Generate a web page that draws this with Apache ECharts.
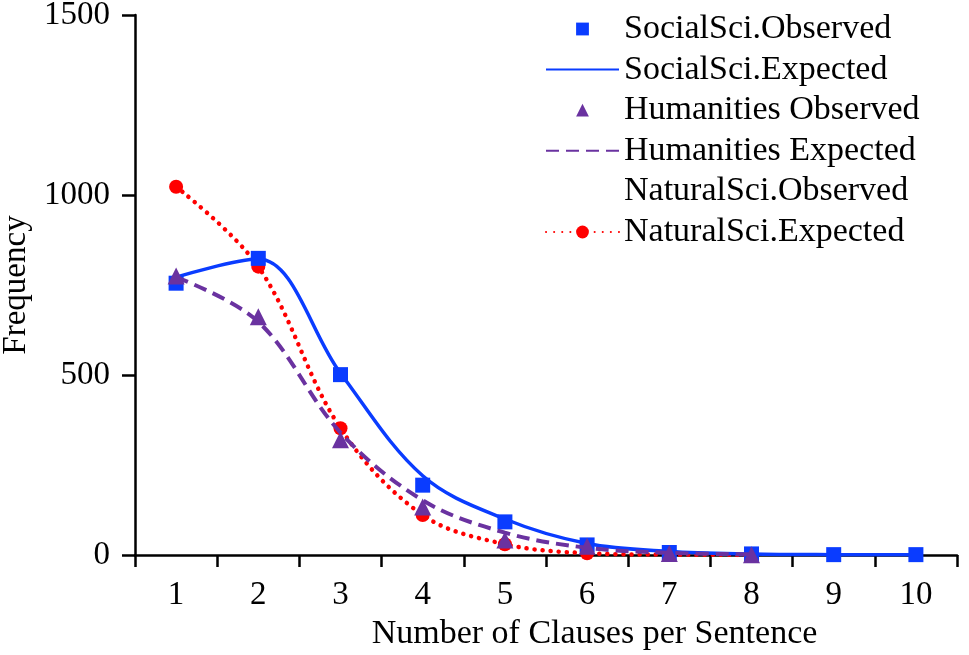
<!DOCTYPE html>
<html>
<head>
<meta charset="utf-8">
<script src="https://cdn.jsdelivr.net/npm/echarts@6/dist/echarts.min.js"></script>
<style>
html,body{margin:0;padding:0;background:#fff;}
#chart{width:969px;height:655px;}
</style>
</head>
<body>
<div id="chart"></div>
<script>
const categories = ['1','2','3','4','5','6','7','8','9','10'];
const yTicks = [0, 500, 1000, 1500];

const socialObserved   = [755, 824, 501, 194, 92, 28, 7, 3, 1, 1];
const socialExpected   = [772, 822, 505, 220, 100, 32, 10, 3, 1, 0.5];
const humanObserved    = [775, 662, 320, 133, 42, 24, 4, 1];
const humanExpected    = [772, 648, 340, 152, 62, 20, 6, 2];
const naturalObserved  = [];
const naturalExpected  = [1023, 801, 352, 111, 30, 5, 1, 0.3];

const BLUE = '#0a3cff', PURPLE = '#6a32a0', RED = '#ff0000';
const FONT = 'Liberation Serif';
const SMOOTH = 0.35;

const chart = echarts.init(document.getElementById('chart'));
chart.setOption({
  animation: false,
  backgroundColor: '#fff',
  grid: { left: 135, right: 12, top: 15, bottom: 100, containLabel: false, outerBoundsMode: 'none' },
  legend: {
    orient: 'vertical', left: 540, top: 7,
    itemWidth: 73, itemHeight: 16, itemGap: 6.6,
    textStyle: { fontFamily: FONT, fontSize: 34, color: '#000', lineHeight: 34 },
    data: [
      'SocialSci.Observed',
      { name: 'SocialSci.Expected', itemStyle: { opacity: 0 } },
      'Humanities Observed',
      { name: 'Humanities Expected', itemStyle: { opacity: 0 } },
      'NaturalSci.Observed',
      'NaturalSci.Expected'
    ]
  },
  xAxis: {
    type: 'category', data: categories, boundaryGap: true,
    name: 'Number of Clauses per Sentence', nameLocation: 'middle', nameGap: 62,
    nameTextStyle: { fontFamily: FONT, fontSize: 34, color: '#000', padding: [0, 0, 0, 97] },
    axisLine: { lineStyle: { color: '#000', width: 2.5 } },
    axisTick: { show: true, alignWithLabel: false, length: 12, lineStyle: { color: '#000', width: 2.5 } },
    axisLabel: { fontFamily: FONT, fontSize: 33, color: '#000', margin: 24 },
    splitLine: { show: false }
  },
  yAxis: {
    type: 'value', min: yTicks[0], max: yTicks[yTicks.length - 1], interval: 500,
    name: 'Frequency', nameLocation: 'middle', nameGap: 100,
    nameTextStyle: { fontFamily: FONT, fontSize: 33, color: '#000' },
    axisLine: { show: true, lineStyle: { color: '#000', width: 2.5 } },
    axisTick: { show: true, length: 13, lineStyle: { color: '#000', width: 2.5 } },
    axisLabel: { fontFamily: FONT, fontSize: 33, color: '#000', margin: 25, formatter: v => String(v) },
    splitLine: { show: false }
  },
  series: [
    { name: 'NaturalSci.Expected', type: 'line', data: naturalExpected, smooth: SMOOTH,
      symbol: 'circle', symbolSize: 14, showAllSymbol: true, z: 2,
      itemStyle: { color: RED },
      lineStyle: { color: RED, width: 4.5, type: [0.1, 8], cap: 'round' } },
    { name: 'NaturalSci.Observed', type: 'line', data: naturalObserved,
      symbol: 'none', itemStyle: { color: 'rgba(0,0,0,0)', opacity: 0 }, lineStyle: { width: 0, opacity: 0 } },
    { name: 'SocialSci.Expected', type: 'line', data: socialExpected, smooth: SMOOTH,
      symbol: 'none', z: 3, itemStyle: { color: BLUE },
      lineStyle: { color: BLUE, width: 3.5 } },
    { name: 'SocialSci.Observed', type: 'line', data: socialObserved,
      symbol: 'rect', symbolSize: 15, showAllSymbol: true, z: 4,
      itemStyle: { color: BLUE }, lineStyle: { width: 0, opacity: 0 } },
    { name: 'Humanities Expected', type: 'line', data: humanExpected, smooth: SMOOTH,
      symbol: 'none', z: 5, itemStyle: { color: PURPLE },
      lineStyle: { color: PURPLE, width: 4, type: [13, 7] } },
    { name: 'Humanities Observed', type: 'line', data: humanObserved,
      symbol: 'triangle', symbolSize: 17, showAllSymbol: true, z: 6,
      itemStyle: { color: PURPLE }, lineStyle: { width: 0, opacity: 0 } }
  ]
});
</script>
</body>
</html>
